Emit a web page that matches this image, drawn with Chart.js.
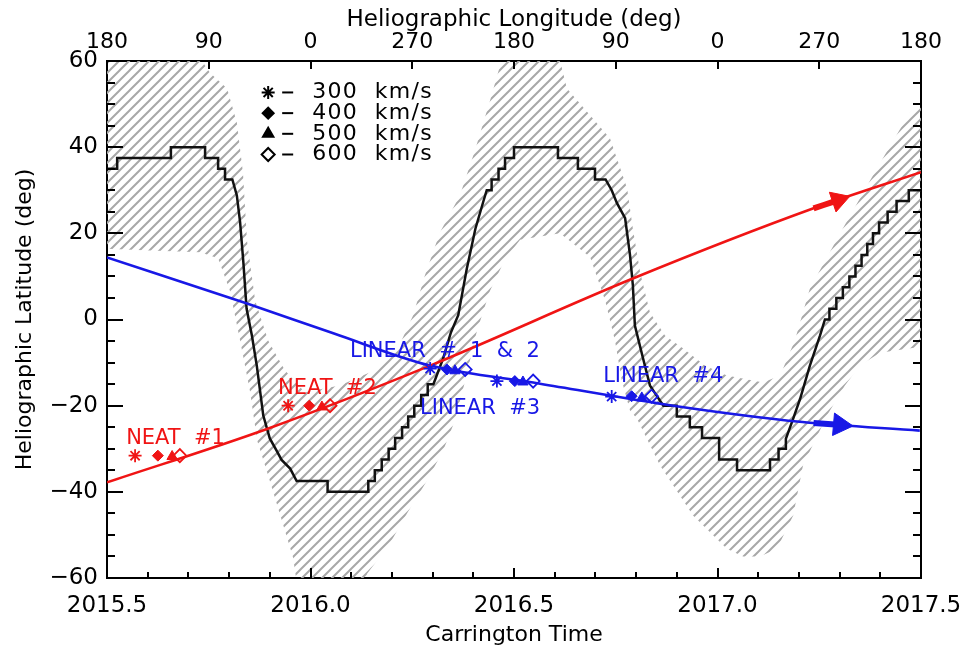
<!DOCTYPE html>
<html>
<head>
<meta charset="utf-8">
<script src="https://cdn.jsdelivr.net/npm/chart.js@4.4.1/dist/chart.umd.min.js"></script>
<style>
  html, body { margin: 0; padding: 0; background: #fff; }
  canvas { display: block; }
</style>
</head>
<body>
<canvas id="chart" width="963" height="654"></canvas>
<script>
// ---- data (x = Carrington time in years, y = latitude in deg) ----
const xTickLabels = ["2015.5", "2016.0", "2016.5", "2017.0", "2017.5"];
const lonTickLabels = ["180", "90", "0", "270", "180", "90", "0", "270", "180"];
const yTickLabels = ["\u221260", "\u221240", "\u221220", "0", "20", "40", "60"];

// heliospheric current sheet (stepped black line)
const sheetPoints = [
  [2015.500, 35], [2015.525, 35], [2015.525, 37.5], [2015.657, 37.5], [2015.657, 40],
  [2015.741, 40], [2015.741, 37.5], [2015.773, 37.5], [2015.773, 35], [2015.790, 35],
  [2015.790, 32.5], [2015.808, 32.5], [2015.819, 28.8], [2015.827, 22.6], [2015.835, 13.3],
  [2015.843, 2.5], [2015.856, -3.7], [2015.868, -10.7], [2015.884, -22.3], [2015.900, -27.6],
  [2015.917, -30.5], [2015.929, -32.6], [2015.950, -34.6], [2015.966, -37.5], [2016.042, -37.5],
  [2016.042, -40], [2016.142, -40], [2016.142, -37.5], [2016.158, -37.5], [2016.158, -35],
  [2016.175, -35], [2016.175, -32.5], [2016.192, -32.5], [2016.192, -30], [2016.208, -30],
  [2016.208, -27.5], [2016.225, -27.5], [2016.225, -25], [2016.240, -25], [2016.240, -22.5],
  [2016.255, -22.5], [2016.255, -20], [2016.272, -20], [2016.272, -17.5], [2016.288, -17.5],
  [2016.288, -15], [2016.302, -15], [2016.326, -9], [2016.345, -3], [2016.363, 1],
  [2016.384, 11.8], [2016.405, 21], [2016.425, 27.5], [2016.433, 30], [2016.445, 30],
  [2016.445, 32.5], [2016.462, 32.5], [2016.462, 35], [2016.478, 35], [2016.478, 37.5],
  [2016.500, 37.5], [2016.500, 40], [2016.608, 40], [2016.608, 37.5], [2016.657, 37.5],
  [2016.657, 35], [2016.699, 35], [2016.699, 32.5], [2016.725, 32.5], [2016.740, 30],
  [2016.753, 27], [2016.773, 23.5], [2016.785, 15], [2016.792, 8], [2016.797, -1.4],
  [2016.817, -9], [2016.834, -15.3], [2016.850, -17.6], [2016.867, -20], [2016.900, -20],
  [2016.900, -22.5], [2016.932, -22.5], [2016.932, -25], [2016.962, -25], [2016.962, -27.5],
  [2017.004, -27.5], [2017.004, -32.5], [2017.048, -32.5], [2017.048, -35], [2017.129, -35],
  [2017.129, -32.5], [2017.150, -32.5], [2017.150, -30], [2017.166, -30], [2017.168, -27.7],
  [2017.186, -23], [2017.203, -18.4], [2017.227, -10.7], [2017.252, -3.7], [2017.264, 0],
  [2017.275, 0], [2017.275, 2.5], [2017.292, 2.5], [2017.292, 5], [2017.308, 5],
  [2017.308, 7.5], [2017.324, 7.5], [2017.324, 10], [2017.339, 10], [2017.339, 12.5],
  [2017.354, 12.5], [2017.354, 15], [2017.368, 15], [2017.368, 17.5], [2017.382, 17.5],
  [2017.382, 20], [2017.397, 20], [2017.397, 22.5], [2017.418, 22.5], [2017.418, 25],
  [2017.440, 25], [2017.440, 27.5], [2017.470, 27.5], [2017.470, 30], [2017.500, 30]
];

// hatched band: upper/left edge and lower/right edge, both left to right
const bandUpper = [
  [2015.480, 68], [2015.716, 62.4], [2015.753, 57.3], [2015.795, 53.6], [2015.819, 45.7],
  [2015.834, 34.1], [2015.844, 18.3], [2015.864, 4.4], [2015.896, -4.9], [2015.937, -11.8],
  [2015.986, -16.9], [2016.072, -15.3], [2016.158, -11.8], [2016.215, -6.7], [2016.252, 0.9],
  [2016.281, 10.2], [2016.318, 20.2], [2016.367, 28.8], [2016.404, 39.2], [2016.441, 50.8],
  [2016.466, 59.0], [2016.478, 67], [2016.601, 64.8], [2016.630, 53.6], [2016.687, 47.4],
  [2016.736, 42.0], [2016.778, 30.4], [2016.792, 21.1], [2016.810, 10.9], [2016.834, 1.6],
  [2016.871, -3.7], [2016.915, -6.7], [2016.969, -10.7], [2017.023, -13.0], [2017.112, -14.6],
  [2017.154, -13.0], [2017.190, -4.9], [2017.227, 7.2], [2017.308, 21.1], [2017.392, 35.1],
  [2017.473, 48.1], [2017.522, 52]
];
const bandLower = [
  [2015.480, 16.5], [2015.606, 16.0], [2015.729, 15.6], [2015.773, 14.2], [2015.802, 6.7],
  [2015.827, -4.9], [2015.851, -16.5], [2015.869, -28.1], [2015.900, -37.4], [2015.957, -55.2],
  [2015.974, -66], [2016.122, -66], [2016.139, -59], [2016.195, -52], [2016.237, -45],
  [2016.286, -37.4], [2016.326, -30.4], [2016.355, -23.4], [2016.380, -14.2], [2016.409, -2.6],
  [2016.441, 6.7], [2016.478, 14.0], [2016.515, 18.5], [2016.613, 20.0], [2016.687, 14.5],
  [2016.724, 4.4], [2016.748, -4.9], [2016.765, -14.2], [2016.785, -21.1], [2016.802, -23],
  [2016.859, -33.9], [2016.940, -45.5], [2017.023, -53.2], [2017.063, -55], [2017.104, -55],
  [2017.146, -53.2], [2017.186, -45.5], [2017.210, -33.9], [2017.269, -22.3], [2017.313, -15.3],
  [2017.350, -10.7], [2017.399, -7.7], [2017.522, -6]
];

// trajectories
const redPath = [[2015.5, -37.8], [2015.893, -25.4], [2016.294, -10.7], [2016.792, 9.5], [2017.236, 25.8], [2017.5, 34.2]];
const bluePath = [[2015.5, 14.4], [2015.844, 3.7], [2016.056, -3.2], [2016.294, -10.7], [2016.564, -14.9], [2016.891, -20], [2017.209, -23.8], [2017.497, -25.8]];
const redShaft = [[2017.236, 25.8], [2017.284, 27.3]];
const redHead = [[2017.297, 27.7]];
const blueShaft = [[2017.236, -24.0], [2017.289, -24.35]];
const blueHead = [[2017.301, -24.45]];

// comet positions for 300/400/500/600 km/s
const neat1 = [[2015.569, -31.6], [2015.625, -31.6], [2015.660, -31.8], [2015.679, -31.6]];
const neat2 = [[2015.945, -20.0], [2015.997, -20.0], [2016.028, -20.3], [2016.048, -20.0]];
const linear12 = [[2016.294, -11.4], [2016.335, -11.6], [2016.355, -11.9], [2016.380, -11.6]];
const linear3 = [[2016.458, -14.3], [2016.502, -14.3], [2016.522, -14.5], [2016.547, -14.3]];
const linear4 = [[2016.740, -17.9], [2016.789, -17.8], [2016.814, -18.2], [2016.838, -17.8]];
const speedLabels = ["300  km/s", "400  km/s", "500  km/s", "600  km/s"];

// ---- styling ----
const RED = "#f01414";
const BLUE = "#1818e6";
const markerStyles = ["star", "rectRot", "triangle", "rectRot"];
const markerRadius = [6.5, 5.5, 6, 6.5];

const textLabels = [
  { text: "NEAT  #1", x: 2015.547, y: -28.8, color: RED },
  { text: "NEAT  #2", x: 2015.920, y: -17.4, color: RED },
  { text: "LINEAR  #  1  &  2", x: 2016.097, y: -8.6, color: BLUE },
  { text: "LINEAR  #3", x: 2016.269, y: -22.0, color: BLUE },
  { text: "LINEAR  #4", x: 2016.719, y: -14.6, color: BLUE }
];

Chart.defaults.font.family = "'DejaVu Sans', sans-serif";
Chart.defaults.color = "#000";

const xy = (pts) => pts.map(p => ({ x: p[0], y: p[1] }));

function hatchPattern() {
  const s = 10;
  const c = document.createElement("canvas");
  c.width = s; c.height = s;
  const g = c.getContext("2d");
  g.strokeStyle = "#a8a8a8";
  g.lineWidth = 2;
  g.beginPath();
  g.moveTo(-2, s + 2); g.lineTo(s + 2, -2);
  g.moveTo(-2, 2); g.lineTo(2, -2);
  g.moveTo(s - 2, s + 2); g.lineTo(s + 2, s - 2);
  g.stroke();
  return g.createPattern(c, "repeat");
}

function markerSet(pts, color) {
  return {
    data: xy(pts),
    showLine: false,
    pointStyle: markerStyles,
    pointRadius: markerRadius,
    pointBackgroundColor: [color, color, color, "rgba(255,255,255,0)"],
    pointBorderColor: color,
    pointBorderWidth: [1.8, 1, 1, 1.8],
    order: 1
  };
}

function pathSet(pts, color, width, order) {
  return {
    data: xy(pts),
    borderColor: color,
    borderWidth: width,
    pointRadius: 0,
    fill: false,
    cubicInterpolationMode: "monotone",
    order: order
  };
}

// chart area is fixed: 107..921 x 61..578
function noSidePadding(s) {
  s.paddingLeft = 0;
  s.paddingRight = 0;
}

// inward ticks, text labels and the legend block
const decorations = {
  id: "decorations",
  afterDatasetsDraw(chart) {
    const { ctx, chartArea: a, scales } = chart;
    const xs = scales.x, ys = scales.y;
    ctx.save();
    ctx.strokeStyle = "#000";
    ctx.lineWidth = 2;
    ctx.beginPath();
    for (let i = 0; i <= 20; i++) {
      const px = Math.round(xs.getPixelForValue(2015.5 + i * 0.1));
      const len = i % 5 === 0 ? 10 : 6;
      ctx.moveTo(px, a.bottom); ctx.lineTo(px, a.bottom - len);
    }
    for (let i = 0; i <= 8; i++) {
      const px = Math.round(xs.getPixelForValue(2015.5 + i * 0.25));
      ctx.moveTo(px, a.top); ctx.lineTo(px, a.top + 8);
    }
    for (let i = 0; i <= 24; i++) {
      const py = Math.round(ys.getPixelForValue(-60 + i * 5));
      const len = i % 4 === 0 ? 16 : 8;
      ctx.moveTo(a.left, py); ctx.lineTo(a.left + len, py);
      ctx.moveTo(a.right, py); ctx.lineTo(a.right - len, py);
    }
    ctx.stroke();

    // comet labels
    ctx.font = "21px 'DejaVu Sans'";
    ctx.textBaseline = "alphabetic";
    ctx.textAlign = "left";
    textLabels.forEach(l => {
      ctx.fillStyle = l.color;
      ctx.fillText(l.text, xs.getPixelForValue(l.x), ys.getPixelForValue(l.y));
    });

    // speed legend
    const sx = xs.getPixelForValue(2015.896);
    ctx.font = "22px 'DejaVu Sans'";
    ctx.textBaseline = "middle";
    speedLabels.forEach((txt, i) => {
      const py = ys.getPixelForValue(52.7 - i * 4.8);
      ctx.fillStyle = i === 3 ? "rgba(255,255,255,0)" : "#000";
      ctx.strokeStyle = "#000";
      Chart.helpers.drawPoint(ctx, {
        pointStyle: markerStyles[i], radius: markerRadius[i], rotation: 0,
        borderWidth: i === 0 || i === 3 ? 1.8 : 1
      }, sx, py);
      ctx.lineWidth = 2;
      ctx.beginPath();
      ctx.moveTo(sx + 14, py); ctx.lineTo(sx + 25, py);
      ctx.stroke();
      ctx.fillStyle = "#000";
      ctx.letterSpacing = "1.3px";
      ctx.fillText(txt, sx + 44, py);
      ctx.letterSpacing = "0px";
    });
    ctx.restore();
  }
};

const hatch = hatchPattern();

new Chart(document.getElementById("chart"), {
  type: "line",
  data: {
    datasets: [
      {
        data: xy(bandUpper.concat(bandLower.slice().reverse())),
        borderWidth: 0,
        borderColor: "rgba(0,0,0,0)",
        backgroundColor: hatch,
        pointRadius: 0,
        fill: "shape",
        tension: 0,
        order: 10
      },
      {
        data: xy(sheetPoints),
        borderColor: "#111",
        borderWidth: 2.5,
        pointRadius: 0,
        fill: false,
        tension: 0,
        order: 9
      },
      pathSet(redPath, RED, 2.6, 8),
      pathSet(bluePath, BLUE, 2.6, 8),
      pathSet(redShaft, RED, 6, 6),
      pathSet(blueShaft, BLUE, 6, 6),
      {
        data: xy(redHead), showLine: false, pointStyle: "triangle", pointRadius: 12,
        rotation: 71.4, pointBackgroundColor: RED, pointBorderColor: RED, pointBorderWidth: 1, order: 5
      },
      {
        data: xy(blueHead), showLine: false, pointStyle: "triangle", pointRadius: 13,
        rotation: 95, pointBackgroundColor: BLUE, pointBorderColor: BLUE, pointBorderWidth: 1, order: 5
      },
      markerSet(neat1, RED),
      markerSet(neat2, RED),
      markerSet(linear12, BLUE),
      markerSet(linear3, BLUE),
      markerSet(linear4, BLUE)
    ]
  },
  options: {
    responsive: false,
    animation: false,
    devicePixelRatio: 1,
    events: [],
    layout: { padding: 0 },
    plugins: { legend: { display: false }, tooltip: { enabled: false } },
    scales: {
      x: {
        type: "linear", position: "bottom", min: 2015.5, max: 2017.5,
        grid: { display: false, drawTicks: false },
        border: { display: true, color: "#000", width: 2 },
        ticks: {
          stepSize: 0.5, padding: 14, font: { size: 23 }, maxRotation: 0,
          callback: (v, i) => xTickLabels[i]
        },
        title: { display: true, text: "Carrington Time", font: { size: 22 }, padding: { top: 0, bottom: 6 } },
        afterFit: (s) => { s.height = 76; noSidePadding(s); }
      },
      x2: {
        type: "linear", position: "top", min: 2015.5, max: 2017.5,
        grid: { display: false, drawTicks: false },
        border: { display: true, color: "#000", width: 2 },
        ticks: {
          stepSize: 0.25, padding: 6, font: { size: 22 }, maxRotation: 0,
          callback: (v, i) => lonTickLabels[i]
        },
        title: { display: true, text: "Heliographic Longitude (deg)", font: { size: 23 }, padding: { top: 6, bottom: 0 } },
        afterFit: (s) => { s.height = 61; noSidePadding(s); }
      },
      y: {
        type: "linear", position: "left", min: -60, max: 60,
        grid: { display: false, drawTicks: false },
        border: { display: true, color: "#000", width: 2 },
        ticks: {
          stepSize: 20, padding: 9, font: { size: 23 },
          callback: (v, i) => yTickLabels[i]
        },
        title: { display: true, text: "Heliographic Latitude (deg)", font: { size: 22 }, padding: { top: 12, bottom: 0 } },
        afterFit: (s) => { s.width = 107; }
      },
      y2: {
        type: "linear", position: "right", min: -60, max: 60,
        grid: { display: false, drawTicks: false },
        border: { display: true, color: "#000", width: 2 },
        ticks: { display: false },
        afterFit: (s) => { s.width = 42; }
      }
    }
  },
  plugins: [decorations]
});
</script>
</body>
</html>
